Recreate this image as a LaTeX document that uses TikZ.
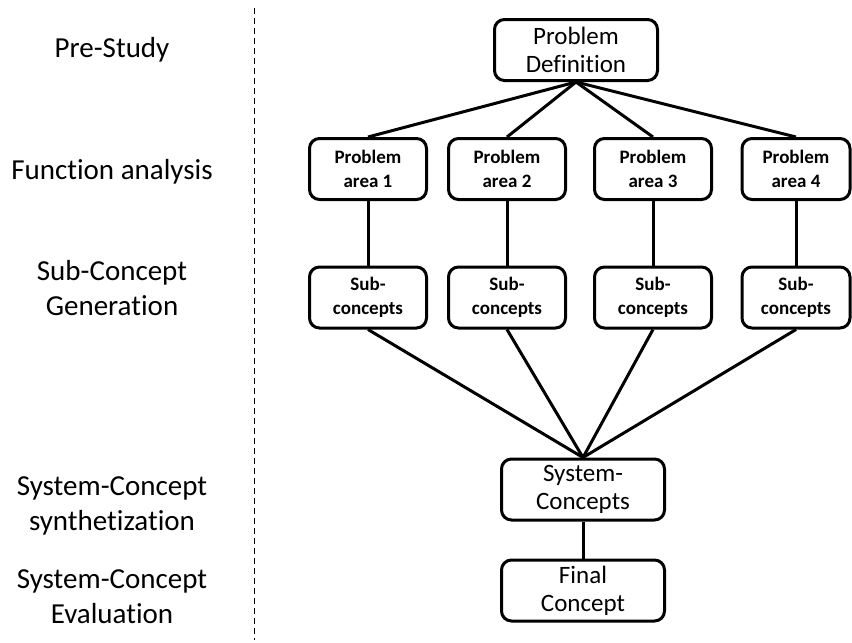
\documentclass[tikz,border=0pt]{standalone}
\usepackage{fontspec}
\setmainfont[Ligatures={NoCommon}]{Carlito}
\begin{document}
\begin{tikzpicture}[x=1pt,y=-1pt,
  box/.style={draw=black, line width=3pt, rounded corners=10pt, inner sep=0pt,
    align=center, fill=white},
  bigbox/.style={box, minimum width=163pt, minimum height=61pt,
    font=\fontsize{25}{28}\selectfont},
  smallbox/.style={box, minimum width=117pt, minimum height=61pt,
    font=\bfseries\fontsize{19}{23.5}\selectfont},
  phase/.style={align=center, font=\fontsize{29}{35}\selectfont},
  link/.style={line width=3pt}]
\useasboundingbox (0,0) rectangle (852,643);

% phase labels and separator
\node[phase] (l1) at (112,50) {Pre-Study};
\node[phase] (l2) at (112,172) {Function analysis};
\node[phase] (l3) at (112,288) {Sub-Concept\\Generation};
\node[phase] (l4) at (112,506) {System-Concept\\synthetization};
\node[phase] (l5) at (112,597) {System-Concept\\Evaluation};
\coordinate (sepTop) at (254,8);
\coordinate (sepBot) at (254,640);
\draw[line width=1pt, dash pattern=on 6pt off 4pt] (sepTop) -- (sepBot);

% concept tree
\node[bigbox] (pd) at (576,50) {Problem\\Definition};
\node[smallbox] (pa1) at (368,169) {Problem\\area 1};
\node[smallbox] (pa2) at (507,169) {Problem\\area 2};
\node[smallbox] (pa3) at (653,169) {Problem\\area 3};
\node[smallbox, minimum width=108pt] (pa4) at (796,169) {Problem\\area 4};
\node[smallbox] (sc1) at (368,297.5) {Sub-\\concepts};
\node[smallbox] (sc2) at (507,297.5) {Sub-\\concepts};
\node[smallbox] (sc3) at (653,297.5) {Sub-\\concepts};
\node[smallbox, minimum width=108pt] (sc4) at (796,297.5) {Sub-\\concepts};
\node[bigbox] (sys) at (583,489.5) {System-\\Concepts};
\node[bigbox] (fin) at (583,590.5) {Final\\Concept};

\foreach \i in {1,...,4}{
  \draw[link] (pd.south) -- (pa\i.north);
  \draw[link] (pa\i.south) -- (sc\i.north);
  \draw[link] (sc\i.south) -- (sys.north);
}
\draw[link] (sys.south) -- (fin.north);
\end{tikzpicture}
\end{document}
